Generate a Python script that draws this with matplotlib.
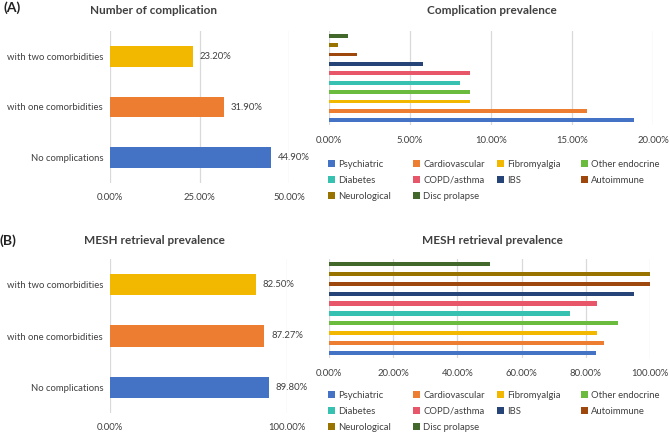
import matplotlib

matplotlib.use("Agg")
import matplotlib.pyplot as plt
from matplotlib.legend import Legend
from matplotlib.patches import Patch
from matplotlib.ticker import FuncFormatter

plt.rcParams["font.family"] = ["Lato", "DejaVu Sans"]

# number of complications (left panels)
groups = ["No complications", "with one comorbidities", "with two comorbidities"]
complication_share = [44.90, 31.90, 23.20]
mesh_by_group = [89.80, 87.27, 82.50]

# per comorbidity (right panels)
comorbidities = ["Psychiatric", "Cardiovascular", "Fibromyalgia", "Other endocrine",
                 "Diabetes", "COPD/asthma", "IBS", "Autoimmune",
                 "Neurological", "Disc prolapse"]
prevalence = [18.8, 15.9, 8.7, 8.7, 8.1, 8.7, 5.8, 1.7, 0.55, 1.15]
mesh_prevalence = [83.2, 85.6, 83.5, 90.0, 75.0, 83.5, 95.0, 100.0, 100.0, 50.0]

group_colors = ["#4472C4", "#ED7D31", "#F2B800"]
comorb_colors = ["#4472C4", "#ED7D31", "#F2B800", "#6BBB3E", "#36C1B0",
                 "#E8566A", "#264478", "#9E480E", "#997300", "#43682B"]

GRID = "#D9D9D9"
TXT = "#404040"
FS = 6.8

fig = plt.figure(figsize=(6.69, 4.32), dpi=100)
W, H = 669, 432


def px_axes(x0, y0, x1, y1):
    return fig.add_axes([x0 / W, 1 - y1 / H, (x1 - x0) / W, (y1 - y0) / H])


def style(ax):
    for s in ax.spines.values():
        s.set_visible(False)
    ax.grid(axis="x", color=GRID, linewidth=0.9)
    ax.set_axisbelow(True)
    ax.tick_params(length=0, labelsize=FS, labelcolor=TXT)
    ax.xaxis.set_major_formatter(FuncFormatter(lambda v, _: f"{v:.2f}%"))


def group_panel(ax, values, xmax, ticks):
    y = range(len(groups))
    ax.barh(y, values, height=0.41, color=group_colors)
    for yi, v in zip(y, values):
        ax.text(v + xmax * 0.038, yi, f"{v:.2f}%", va="center", ha="left",
                fontsize=FS, color=TXT)
    ax.set_yticks(list(y))
    ax.set_yticklabels(groups)
    ax.set_ylim(-0.5, len(groups) - 0.5)
    ax.set_xlim(0, xmax)
    ax.set_xticks(ticks)
    style(ax)
    ax.tick_params(axis="y", pad=5)
    ax.tick_params(axis="x", pad=7)


def comorb_panel(ax, values, xmax, ticks):
    y = range(len(comorbidities))
    ax.barh(y, values, height=0.42, color=comorb_colors)
    ax.set_yticks([])
    ax.set_ylim(-0.5, len(comorbidities) - 0.5)
    ax.set_xlim(0, xmax)
    ax.set_xticks(ticks)
    style(ax)
    ax.tick_params(axis="x", pad=8)


def legend_below(ax, top_px):
    # Excel-style legend: row-major order in 4 fixed-width columns
    handles = [Patch(facecolor=c, label=l) for c, l in zip(comorb_colors, comorbidities)]
    col_x = [328, 413, 497, 581]
    for c, x in enumerate(col_x):
        idx = list(range(c, len(comorbidities), 4))
        leg = Legend(ax, [handles[i] for i in idx], [comorbidities[i] for i in idx],
                     loc="upper left", bbox_to_anchor=((x - 4) / W, 1 - top_px / H),
                     bbox_transform=fig.transFigure, frameon=False, fontsize=FS,
                     labelcolor=TXT, handlelength=0.72, handleheight=0.72,
                     handletextpad=0.4, labelspacing=0.75, borderaxespad=0)
        ax.add_artist(leg)


# (A)
ax1 = px_axes(110, 31, 289, 183)
group_panel(ax1, complication_share, 50, [0, 25, 50])
ax2 = px_axes(329, 31, 653, 125)
comorb_panel(ax2, prevalence, 20, [0, 5, 10, 15, 20])
legend_below(ax2, 156)

# (B)
ax3 = px_axes(110, 259, 287, 413)
group_panel(ax3, mesh_by_group, 100, [0, 100])
ax4 = px_axes(329, 259, 650, 358)
comorb_panel(ax4, mesh_prevalence, 100, [0, 20, 40, 60, 80, 100])
legend_below(ax4, 387)

tkw = dict(fontsize=8.5, fontweight="bold", color=TXT, ha="center", va="center")
fig.text(153 / W, 1 - 10 / H, "Number of complication", **tkw)
fig.text(492 / W, 1 - 10 / H, "Complication prevalence", **tkw)
fig.text(154 / W, 1 - 241 / H, "MESH retrieval prevalence", **tkw)
fig.text(492 / W, 1 - 241 / H, "MESH retrieval prevalence", **tkw)

fig.text(3 / W, 1 - 8 / H, "(A)", fontsize=10, fontweight="bold", color="#222222",
         ha="left", va="center")
fig.text(0 / W, 1 - 241 / H, "(B)", fontsize=10, fontweight="bold", color="#222222",
         ha="left", va="center")

fig.savefig("out.png", dpi=100, facecolor="white")
